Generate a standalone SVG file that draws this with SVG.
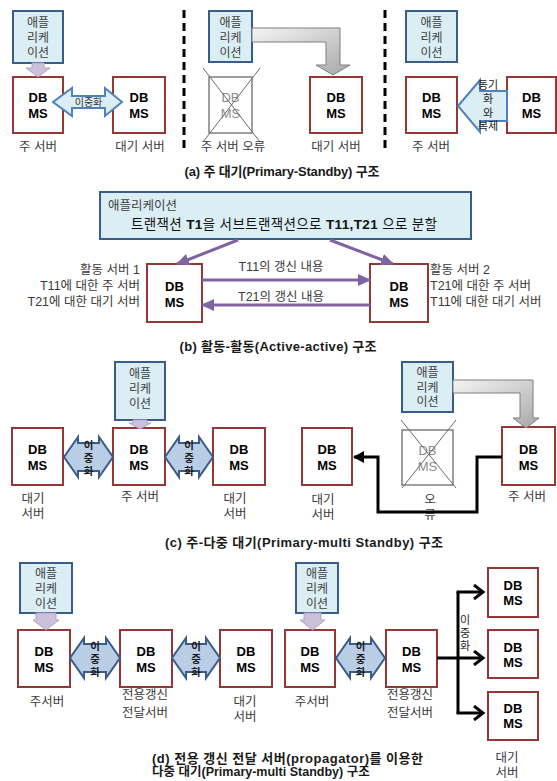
<svg xmlns="http://www.w3.org/2000/svg" width="557" height="781" viewBox="0 0 557 781">
<defs>
<style>
text{font-family:"Liberation Sans","Noto Sans CJK KR",sans-serif;text-anchor:middle;dominant-baseline:central;}
.db{fill:#fff;stroke:#953735;stroke-width:2;}
.dbt{font-weight:bold;font-size:13px;fill:#000;}
.dead{fill:#fff;stroke:#7f7f7f;stroke-width:1.5;}
.deadt{font-size:13px;fill:#8c8c8c;}
.x{stroke:#6a6a6a;stroke-width:1;}
.app{fill:#dbeef4;stroke:#385d8a;stroke-width:2;}
.appt{font-size:12px;fill:#404040;}
.lav{fill:#ccc1da;stroke:#b3a2c7;stroke-width:1;}
.dupa{fill:#dbeef4;stroke:#4f81bd;stroke-width:2;}
.dup{fill:#b9cde5;stroke:#385d8a;stroke-width:2;}
.dupt{font-size:10.5px;fill:#1a1a1a;font-weight:bold;}
.lbl{font-size:12.5px;fill:#3a3a3a;}
.lb2{font-size:12.5px;fill:#3a3a3a;}
.cap{font-size:13px;font-weight:bold;fill:#1a1a1a;}
.dash{stroke:#000;stroke-width:3;stroke-dasharray:8 5;}
.gray{fill:url(#gg);stroke:#7f7f7f;stroke-width:1;}
.pur{stroke:#8064a2;stroke-width:3;fill:none;}
.blk{stroke:#000;stroke-width:3;fill:none;}
.vt{font-size:11px;fill:#222;}
</style>
<linearGradient id="gg" x1="0" y1="0" x2="1" y2="1">
<stop offset="0" stop-color="#f4f4f4"/><stop offset="1" stop-color="#a8a8a8"/>
</linearGradient>
<marker id="pa" markerUnits="userSpaceOnUse" markerWidth="14" markerHeight="12" refX="12" refY="6" orient="auto">
<path d="M0,0 L13,6 L0,12 Z" fill="#8064a2"/>
</marker>
<marker id="ba" markerUnits="userSpaceOnUse" markerWidth="12" markerHeight="12" refX="10" refY="6" orient="auto">
<path d="M0,0 L11,6 L0,12 Z" fill="#000"/>
</marker>
<marker id="bo" markerUnits="userSpaceOnUse" markerWidth="14" markerHeight="16" refX="11" refY="8" orient="auto">
<path d="M2,1 L11,8 L2,15" fill="none" stroke="#000" stroke-width="3"/>
</marker>
</defs>
<rect width="557" height="781" fill="#fff"/>

<!-- ===== (a) ===== -->
<g id="a-app1"><rect class="app" x="13" y="11" width="50" height="52"/>
<text class="appt"><tspan x="38" y="23">애플</tspan><tspan x="38" y="38">리케</tspan><tspan x="38" y="53">이션</tspan></text></g>
<g id="a-dbms1"><rect class="db" x="13" y="77" width="50" height="56"/>
<text class="dbt"><tspan x="38" y="97">DB</tspan><tspan x="38" y="113">MS</tspan></text></g>
<g id="a-dbms2"><rect class="db" x="113" y="77" width="52" height="56"/>
<text class="dbt"><tspan x="139" y="97">DB</tspan><tspan x="139" y="113">MS</tspan></text></g>
<g id="a-app2"><rect class="app" x="209" y="11" width="43" height="51"/>
<text class="appt"><tspan x="230.5" y="23">애플</tspan><tspan x="230.5" y="38">리케</tspan><tspan x="230.5" y="53">이션</tspan></text></g>
<g id="a-dbms-fail"><rect class="dead" x="209" y="77" width="43" height="56"/>
<text class="deadt"><tspan x="230.5" y="97">DB</tspan><tspan x="230.5" y="113">MS</tspan></text>
<line class="x" x1="203" y1="68" x2="260" y2="142"/><line class="x" x1="260" y1="68" x2="203" y2="142"/></g>
<g id="a-dbms3"><rect class="db" x="310" y="77" width="52" height="56"/>
<text class="dbt"><tspan x="336" y="97">DB</tspan><tspan x="336" y="113">MS</tspan></text></g>
<g id="a-app3"><rect class="app" x="406" y="11" width="51" height="51"/>
<text class="appt"><tspan x="431.5" y="23">애플</tspan><tspan x="431.5" y="38">리케</tspan><tspan x="431.5" y="53">이션</tspan></text></g>
<g id="a-dbms4"><rect class="db" x="406" y="77" width="51" height="56"/>
<text class="dbt"><tspan x="431.5" y="97">DB</tspan><tspan x="431.5" y="113">MS</tspan></text></g>
<g id="a-dbms5"><rect class="db" x="507" y="77" width="49" height="56"/>
<text class="dbt"><tspan x="531.5" y="97">DB</tspan><tspan x="531.5" y="113">MS</tspan></text></g>

<g id="a-labels">
<text class="lbl" x="38" y="147">주 서버</text>
<text class="lbl" x="140" y="147">대기 서버</text>
<text class="lbl" x="233" y="147">주 서버 오류</text>
<text class="lbl" x="336" y="147">대기 서버</text>
<text class="lbl" x="431" y="147">주 서버</text>
<text class="cap" x="282" y="171" textLength="195">(a) 주 대기(Primary-Standby) 구조</text>
</g>

<!-- ===== (b) ===== -->
<g id="b-app"><rect class="app" x="100" y="192" width="371" height="47"/>
<text class="appt" x="108" y="206" style="text-anchor:start;font-size:12.5px">애플리케이션</text>
<text x="284" y="224" textLength="306" style="font-size:13.5px;fill:#111">트랜잭션 <tspan font-weight="bold">T1</tspan>을 서브트랜잭션으로 <tspan font-weight="bold">T11,T21</tspan> 으로 분할</text></g>
<g id="b-dbms1"><rect class="db" x="147" y="264" width="55" height="58"/>
<text class="dbt"><tspan x="174.5" y="286">DB</tspan><tspan x="174.5" y="302">MS</tspan></text></g>
<g id="b-dbms2"><rect class="db" x="370" y="264" width="58" height="58"/>
<text class="dbt"><tspan x="399" y="286">DB</tspan><tspan x="399" y="302">MS</tspan></text></g>
<g id="b-labels">
<text class="lb2" style="text-anchor:end"><tspan x="140" y="270">활동 서버 1</tspan><tspan x="140" y="286">T11에 대한 주 서버</tspan><tspan x="140" y="302">T21에 대한 대기 서버</tspan></text>
<text class="lb2" style="text-anchor:start"><tspan x="430" y="270">활동 서버 2</tspan><tspan x="430" y="286">T21에 대한 주 서버</tspan><tspan x="430" y="302">T11에 대한 대기 서버</tspan></text>
<text class="lb2" x="281" y="267">T11의 갱신 내용</text>
<text class="lb2" x="281" y="297">T21의 갱신 내용</text>
<text class="cap" x="278" y="346" textLength="197">(b) 활동-활동(Active-active) 구조</text>
</g>

<!-- ===== (c) ===== -->
<g id="c-app1"><rect class="app" x="115" y="362" width="50" height="58"/>
<text class="appt"><tspan x="140" y="374">애플</tspan><tspan x="140" y="389">리케</tspan><tspan x="140" y="404">이션</tspan></text></g>
<g id="c-dbms1"><rect class="db" x="12" y="428" width="51" height="57"/>
<text class="dbt"><tspan x="37.5" y="449">DB</tspan><tspan x="37.5" y="465">MS</tspan></text></g>
<g id="c-dbms2"><rect class="db" x="113" y="428" width="52" height="57"/>
<text class="dbt"><tspan x="139" y="449">DB</tspan><tspan x="139" y="465">MS</tspan></text></g>
<g id="c-dbms3"><rect class="db" x="213" y="428" width="52" height="57"/>
<text class="dbt"><tspan x="239" y="449">DB</tspan><tspan x="239" y="465">MS</tspan></text></g>
<g id="c-app2"><rect class="app" x="402" y="362" width="51" height="50"/>
<text class="appt"><tspan x="427.5" y="373">애플</tspan><tspan x="427.5" y="388">리케</tspan><tspan x="427.5" y="402">이션</tspan></text></g>
<g id="c-dbms4"><rect class="db" x="302" y="428" width="50" height="57"/>
<text class="dbt"><tspan x="327" y="449">DB</tspan><tspan x="327" y="465">MS</tspan></text></g>
<g id="c-dbms-fail"><rect class="dead" x="402" y="430" width="51" height="55"/>
<text class="deadt"><tspan x="427.5" y="450">DB</tspan><tspan x="427.5" y="466">MS</tspan></text>
<line class="x" x1="401" y1="420" x2="456" y2="488"/><line class="x" x1="456" y1="420" x2="402" y2="488"/></g>
<g id="c-dbms5"><rect class="db" x="502" y="427" width="53" height="58"/>
<text class="dbt"><tspan x="528.5" y="449">DB</tspan><tspan x="528.5" y="465">MS</tspan></text></g>
<g id="c-labels">
<text class="lbl"><tspan x="33" y="499">대기</tspan><tspan x="33" y="514">서버</tspan></text>
<text class="lbl" x="140" y="497">주 서버</text>
<text class="lbl"><tspan x="235" y="499">대기</tspan><tspan x="235" y="514">서버</tspan></text>
<text class="lbl"><tspan x="323" y="500">대기</tspan><tspan x="323" y="515">서버</tspan></text>
<text class="lbl"><tspan x="430" y="500">오</tspan><tspan x="430" y="515">류</tspan></text>
<text class="lbl" x="527" y="497">주 서버</text>
<text class="cap" x="304" y="542" textLength="278">(c) 주-다중 대기(Primary-multi Standby) 구조</text>
</g>

<!-- ===== (d) ===== -->
<g id="d-app1"><rect class="app" x="20" y="563" width="52" height="50"/>
<text class="appt"><tspan x="46" y="574">애플</tspan><tspan x="46" y="589">리케</tspan><tspan x="46" y="604">이션</tspan></text></g>
<g id="d-dbms1"><rect class="db" x="18" y="630" width="52" height="57"/>
<text class="dbt"><tspan x="44" y="651">DB</tspan><tspan x="44" y="667">MS</tspan></text></g>
<g id="d-dbms2"><rect class="db" x="120" y="630" width="52" height="57"/>
<text class="dbt"><tspan x="146" y="651">DB</tspan><tspan x="146" y="667">MS</tspan></text></g>
<g id="d-dbms3"><rect class="db" x="220" y="630" width="52" height="57"/>
<text class="dbt"><tspan x="246" y="651">DB</tspan><tspan x="246" y="667">MS</tspan></text></g>
<g id="d-app2"><rect class="app" x="296" y="563" width="42" height="50"/>
<text class="appt"><tspan x="317" y="574">애플</tspan><tspan x="317" y="589">리케</tspan><tspan x="317" y="604">이션</tspan></text></g>
<g id="d-dbms4"><rect class="db" x="285" y="630" width="50" height="57"/>
<text class="dbt"><tspan x="310" y="651">DB</tspan><tspan x="310" y="667">MS</tspan></text></g>
<g id="d-dbms5"><rect class="db" x="386" y="630" width="51" height="57"/>
<text class="dbt"><tspan x="411.5" y="651">DB</tspan><tspan x="411.5" y="667">MS</tspan></text></g>
<g id="d-dbms6"><rect class="db" x="488" y="568" width="50" height="49"/>
<text class="dbt"><tspan x="513" y="585">DB</tspan><tspan x="513" y="600">MS</tspan></text></g>
<g id="d-dbms7"><rect class="db" x="488" y="630" width="50" height="48"/>
<text class="dbt"><tspan x="513" y="647">DB</tspan><tspan x="513" y="662">MS</tspan></text></g>
<g id="d-dbms8"><rect class="db" x="488" y="692" width="50" height="48"/>
<text class="dbt"><tspan x="513" y="708">DB</tspan><tspan x="513" y="723">MS</tspan></text></g>
<g id="d-labels">
<text class="lbl" x="47" y="702">주서버</text>
<text class="lbl"><tspan x="145" y="695">전용갱신</tspan><tspan x="145" y="713">전달서버</tspan></text>
<text class="lbl"><tspan x="245" y="702">대기</tspan><tspan x="245" y="717">서버</tspan></text>
<text class="lbl" x="312" y="702">주서버</text>
<text class="lbl"><tspan x="410" y="695">전용갱신</tspan><tspan x="410" y="713">전달서버</tspan></text>
<text class="lbl"><tspan x="507" y="758">대기</tspan><tspan x="507" y="773">서버</tspan></text>
<text class="cap" x="152" y="758" textLength="271" style="text-anchor:start">(d) 전용 갱신 전달 서버(propagator)를 이용한</text>
<text class="cap" x="152" y="772" style="text-anchor:start;font-size:12.5px">다중 대기(Primary-multi Standby) 구조</text>
</g>

<!-- ===== connectors ===== -->
<g id="connectors">
<line class="dash" x1="184" y1="10" x2="184" y2="148"/>
<line class="dash" x1="385" y1="10" x2="385" y2="148"/>
<path class="lav" d="M32,63 H44 V68 H50 L38,77 L26,68 H32 Z"/>
<path class="lav" d="M133,420 H147 V423 H151 L140,429 L129,423 H133 Z"/>
<path class="lav" d="M36,613 H56 V620 H59 L46,630 L33,620 H36 Z"/>
<path class="lav" d="M304,613 H321 V620 H325 L312.5,630 L300,620 H304 Z"/>
<path class="dupa" d="M53,102 L72,88 V96 H105 V88 L122,102 L105,116 V108 H72 V116 Z"/>
<text x="88.5" y="102" style="font-size:10px;fill:#333">이중화</text>
<path class="gray" d="M252,28 H340 V65 H350 L333,75 L316,65 H326 V42 H252 Z"/>
<path class="dupa" d="M458,106 L480,80 V91 H507 V121 H480 V132 Z"/>
<text class="vt"><tspan x="488" y="85">동기</tspan><tspan x="488" y="99">화</tspan><tspan x="488" y="112.5">와</tspan><tspan x="488" y="126">복제</tspan></text>
<line class="pur" x1="238" y1="240" x2="177" y2="264" marker-end="url(#pa)"/>
<line class="pur" x1="330" y1="240" x2="393" y2="264" marker-end="url(#pa)"/>
<line class="pur" x1="202" y1="280" x2="370" y2="280" marker-end="url(#pa)"/>
<line class="pur" x1="370" y1="305" x2="202" y2="305" marker-end="url(#pa)"/>
<path class="dup" d="M64,457 L78,437 V443 H99 V437 L113,457 L99,477 V471 H78 V477 Z"/>
<text class="dupt"><tspan x="88.5" y="445">이</tspan><tspan x="88.5" y="458">중</tspan><tspan x="88.5" y="471">화</tspan></text>
<path class="dup" d="M165,457 L179,437 V443 H199 V437 L213,457 L199,477 V471 H179 V477 Z"/>
<text class="dupt"><tspan x="189" y="445">이</tspan><tspan x="189" y="458">중</tspan><tspan x="189" y="471">화</tspan></text>
<path class="gray" d="M453,380 H533 V418 H539 L526,428 L513,418 H520 V393 H453 Z"/>
<path class="blk" d="M502,457 H477 V512 H378 V457 H354" marker-end="url(#ba)"/>
<path class="dup" d="M70,658 L84,638 V644 H106 V638 L120,658 L106,678 V672 H84 V678 Z"/>
<text class="dupt"><tspan x="95" y="646">이</tspan><tspan x="95" y="659">중</tspan><tspan x="95" y="672">화</tspan></text>
<path class="dup" d="M172,658 L186,638 V644 H206 V638 L220,658 L206,678 V672 H186 V678 Z"/>
<text class="dupt"><tspan x="196" y="646">이</tspan><tspan x="196" y="659">중</tspan><tspan x="196" y="672">화</tspan></text>
<path class="dup" d="M336,658 L350,638 V644 H371 V638 L385,658 L371,678 V672 H350 V678 Z"/>
<text class="dupt"><tspan x="360.5" y="646">이</tspan><tspan x="360.5" y="659">중</tspan><tspan x="360.5" y="672">화</tspan></text>
<line class="blk" x1="458" y1="592" x2="458" y2="713"/>
<line class="blk" x1="437" y1="658" x2="483" y2="658" marker-end="url(#bo)"/>
<line class="blk" x1="456.5" y1="592" x2="483" y2="592" marker-end="url(#bo)"/>
<line class="blk" x1="456.5" y1="713" x2="483" y2="713" marker-end="url(#bo)"/>
<text class="vt"><tspan x="465" y="620">이</tspan><tspan x="465" y="633">중</tspan><tspan x="465" y="646">화</tspan></text>
</g>
</svg>
